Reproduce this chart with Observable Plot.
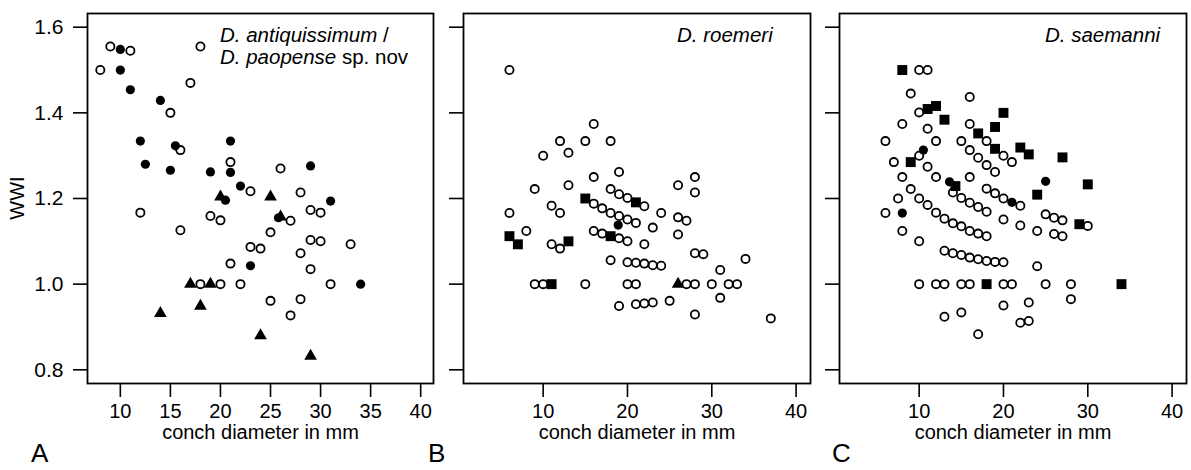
<!DOCTYPE html>
<html>
<head>
<meta charset="utf-8">
<script src="https://cdn.jsdelivr.net/npm/d3@7"></script>
<script src="https://cdn.jsdelivr.net/npm/@observablehq/plot@0.6"></script>
<style>
  html, body { margin: 0; padding: 0; background: #fff; }
  #wrap { position: relative; width: 1191px; height: 470px; overflow: hidden; font-family: "Liberation Sans", Arial, sans-serif; }
  #wrap > svg { position: absolute; top: 0; overflow: visible; }
</style>
</head>
<body>
<div id="wrap"></div>
<script>
// ---------- data (conch diameter in mm, WWI) ----------
const yTicks = [0.8, 1.0, 1.2, 1.4, 1.6];
const xTicksA = [10, 15, 20, 25, 30, 35, 40];
const xTicksBC = [10, 20, 30, 40];
const panelLetters = ["A", "B", "C"];
const xTitle = "conch diameter in mm";
const yTitle = "WWI";

// Panel A: D. antiquissimum / D. paopense sp. nov
const aOpen = [[8,1.50],[9,1.555],[11,1.545],[18,1.555],[17,1.47],[15,1.40],[16,1.313],[21,1.285],[26,1.27],[23,1.217],[28,1.214],[12,1.167],[19,1.159],[20,1.149],[16,1.126],[27,1.148],[29,1.173],[30,1.167],[25,1.121],[23,1.087],[24,1.083],[29,1.103],[30,1.10],[33,1.093],[28,1.072],[21,1.048],[29,1.035],[18,1.0],[20,1.0],[22,1.0],[31,1.0],[25,0.961],[28,0.965],[27,0.927]];
const aFilled = [[10,1.548],[10,1.50],[11,1.454],[14,1.429],[12,1.334],[15.5,1.323],[12.5,1.28],[15,1.266],[19,1.262],[21,1.334],[21,1.261],[22,1.229],[20.5,1.196],[29,1.276],[31,1.194],[25.8,1.155],[23,1.043],[34,1.0]];
const aTri = [[20,1.204],[25,1.204],[26,1.157],[17,1.0],[19,1.0],[18,0.949],[14,0.932],[24,0.88],[29,0.832]];
const aSquare = [];

// Panel B: D. roemeri
const bOpen = [[6,1.5],[16,1.374],[12,1.334],[15,1.334],[18,1.334],[10,1.30],[13,1.307],[16,1.25],[9,1.222],[13,1.231],[18,1.222],[16,1.188],[17,1.177],[18,1.166],[6,1.166],[11,1.183],[12,1.166],[19,1.262],[28,1.25],[28,1.214],[26,1.231],[19,1.21],[20,1.201],[22,1.182],[19,1.159],[20,1.151],[21,1.143],[24,1.166],[23,1.132],[26,1.156],[27,1.148],[26,1.116],[16,1.124],[17,1.118],[19,1.107],[20,1.10],[22,1.093],[18,1.056],[20,1.051],[21,1.05],[22,1.048],[23,1.044],[24,1.043],[28,1.072],[29,1.07],[34,1.059],[31,1.033],[20,1.0],[21,1.0],[27,1.0],[28,1.0],[30,1.0],[32,1.0],[33,1.0],[31,0.968],[19,0.949],[21,0.953],[22,0.955],[23,0.957],[25,0.961],[28,0.929],[37,0.92],[8,1.124],[11,1.093],[12,1.083],[9,1.0],[10,1.0],[15,1.0]];
const bFilled = [[18.9,1.138]];
const bTri = [[26,1.0]];
const bSquare = [[15,1.2],[21,1.191],[18,1.112],[6,1.112],[7,1.093],[13,1.10],[11,1.0]];

// Panel C: D. saemanni
const cOpen = [[10,1.5],[11,1.5],[9,1.445],[16,1.437],[10,1.401],[8,1.374],[11,1.363],[16,1.374],[18,1.334],[6,1.334],[12,1.334],[15,1.334],[16,1.313],[17,1.295],[18,1.278],[19,1.262],[7,1.285],[10,1.30],[11,1.274],[12,1.25],[8,1.25],[16,1.25],[14,1.214],[15,1.201],[16,1.19],[17,1.18],[18,1.169],[18,1.223],[19,1.212],[7.5,1.2],[9,1.222],[10,1.2],[11,1.185],[12,1.167],[13,1.153],[14,1.142],[15,1.135],[16,1.124],[17,1.118],[18,1.112],[6,1.166],[20,1.30],[21,1.285],[20,1.2],[22,1.183],[20,1.151],[22,1.137],[25,1.163],[26,1.155],[27,1.149],[30,1.136],[24,1.124],[26,1.117],[27,1.112],[8,1.124],[10,1.10],[13,1.078],[14,1.072],[15,1.068],[16,1.062],[17,1.058],[18,1.054],[19,1.052],[20,1.051],[24,1.042],[10,1.0],[12,1.0],[13,1.0],[15,1.0],[16,1.0],[20,1.0],[21,1.0],[25,1.0],[28,1.0],[28,0.965],[20,0.95],[23,0.957],[15,0.934],[22,0.91],[23,0.914],[17,0.883],[13,0.924]];
const cFilled = [[10.5,1.313],[13.6,1.239],[8,1.166],[25,1.24],[21,1.191]];
const cTri = [];
const cSquare = [[8,1.5],[11,1.409],[12,1.416],[13,1.384],[17,1.352],[19,1.367],[19,1.316],[9,1.285],[14.3,1.229],[20,1.40],[22,1.319],[23,1.303],[27,1.296],[30,1.233],[24,1.209],[29,1.14],[18,1.0],[34,1.0]];

// ---------- drawing ----------
const FONT = "'Liberation Sans', Arial, Helvetica, sans-serif";
const wrap = document.getElementById("wrap");

function panel(cfg) {
  const marks = [
    Plot.frame({stroke: "black", strokeWidth: 1.8}),
    Plot.axisX({ticks: cfg.xTicks, tickSize: 14, tickPadding: 6, label: null, fontSize: 20, strokeWidth: 1.6, tickFormat: d => String(d)}),
    Plot.axisY({ticks: yTicks, tickSize: 14, tickPadding: 10, label: null, fontSize: 21, strokeWidth: 1.6,
      tickFormat: cfg.showY ? d3.format(".1f") : () => ""}),
    Plot.dot(cfg.open, {x: d => d[0], y: d => d[1], r: 4.1, stroke: "black", strokeWidth: 1.8, fill: "none"}),
    Plot.dot(cfg.filled, {x: d => d[0], y: d => d[1], r: 4.6, fill: "black", stroke: "none"}),
    Plot.dot(cfg.tri, {x: d => d[0], y: d => d[1], r: 4.7, symbol: "triangle", fill: "black", stroke: "none"}),
    Plot.dot(cfg.sq, {x: d => d[0], y: d => d[1], r: 5.6, symbol: "square", fill: "black", stroke: "none"}),
    Plot.text([xTitle], {frameAnchor: "bottom", dy: 55, fontSize: 20, fill: "black"})
  ];
  const svg = Plot.plot({
    width: cfg.width, height: 470,
    marginLeft: cfg.mL, marginRight: cfg.mR, marginTop: 13, marginBottom: 87,
    x: {domain: cfg.xDomain},
    y: {domain: [0.768, 1.632]},
    style: {fontFamily: FONT, fontSize: "20px", color: "black", background: "transparent", overflow: "visible"},
    marks
  });
  svg.style.left = cfg.left + "px";
  const sel = d3.select(svg);
  cfg.legend.forEach((line, i) => {
    const t = sel.append("text")
      .attr("x", cfg.legendX).attr("y", 42 + i * 22)
      .attr("text-anchor", "start")
      .attr("font-size", 20.5).attr("font-family", FONT).attr("fill", "black");
    line.forEach(([s, it]) => t.append("tspan").attr("font-style", it ? "italic" : "normal").text(s));
  });
  wrap.appendChild(svg);
  return svg;
}

panel({left: 0, width: 448, mL: 87, mR: 15, xDomain: [6.72, 41.28], xTicks: xTicksA, showY: true,
  open: aOpen, filled: aFilled, tri: aTri, sq: aSquare, legendX: 220,
  legend: [[["D. antiquissimum", true], [" /", false]], [["D. paopense", true], [" sp. nov", false]]]});
panel({left: 433, width: 391, mL: 30, mR: 14, xDomain: [0.55, 41.71], xTicks: xTicksBC, showY: false,
  open: bOpen, filled: bFilled, tri: bTri, sq: bSquare, legendX: 244,
  legend: [[["D. roemeri", true]]]});
panel({left: 824, width: 367, mL: 15, mR: 5, xDomain: [0.55, 41.71], xTicks: xTicksBC, showY: false,
  open: cOpen, filled: cFilled, tri: cTri, sq: cSquare, legendX: 221,
  legend: [[["D. saemanni", true]]]});

// overlay: y title and panel letters
const ov = d3.select(wrap).append("svg")
  .attr("width", 1191).attr("height", 470)
  .style("left", "0px").style("pointer-events", "none");
ov.append("text").attr("transform", "translate(24,198) rotate(-90)")
  .attr("text-anchor", "middle").attr("font-size", 20).attr("font-family", FONT).attr("fill", "black").text(yTitle);
[[31, panelLetters[0]], [428, panelLetters[1]], [832, panelLetters[2]]].forEach(([x, s]) => {
  ov.append("text").attr("x", x).attr("y", 462).attr("text-anchor", "start").attr("font-size", 26).attr("font-family", FONT).attr("fill", "black").text(s);
});
</script>
</body>
</html>
